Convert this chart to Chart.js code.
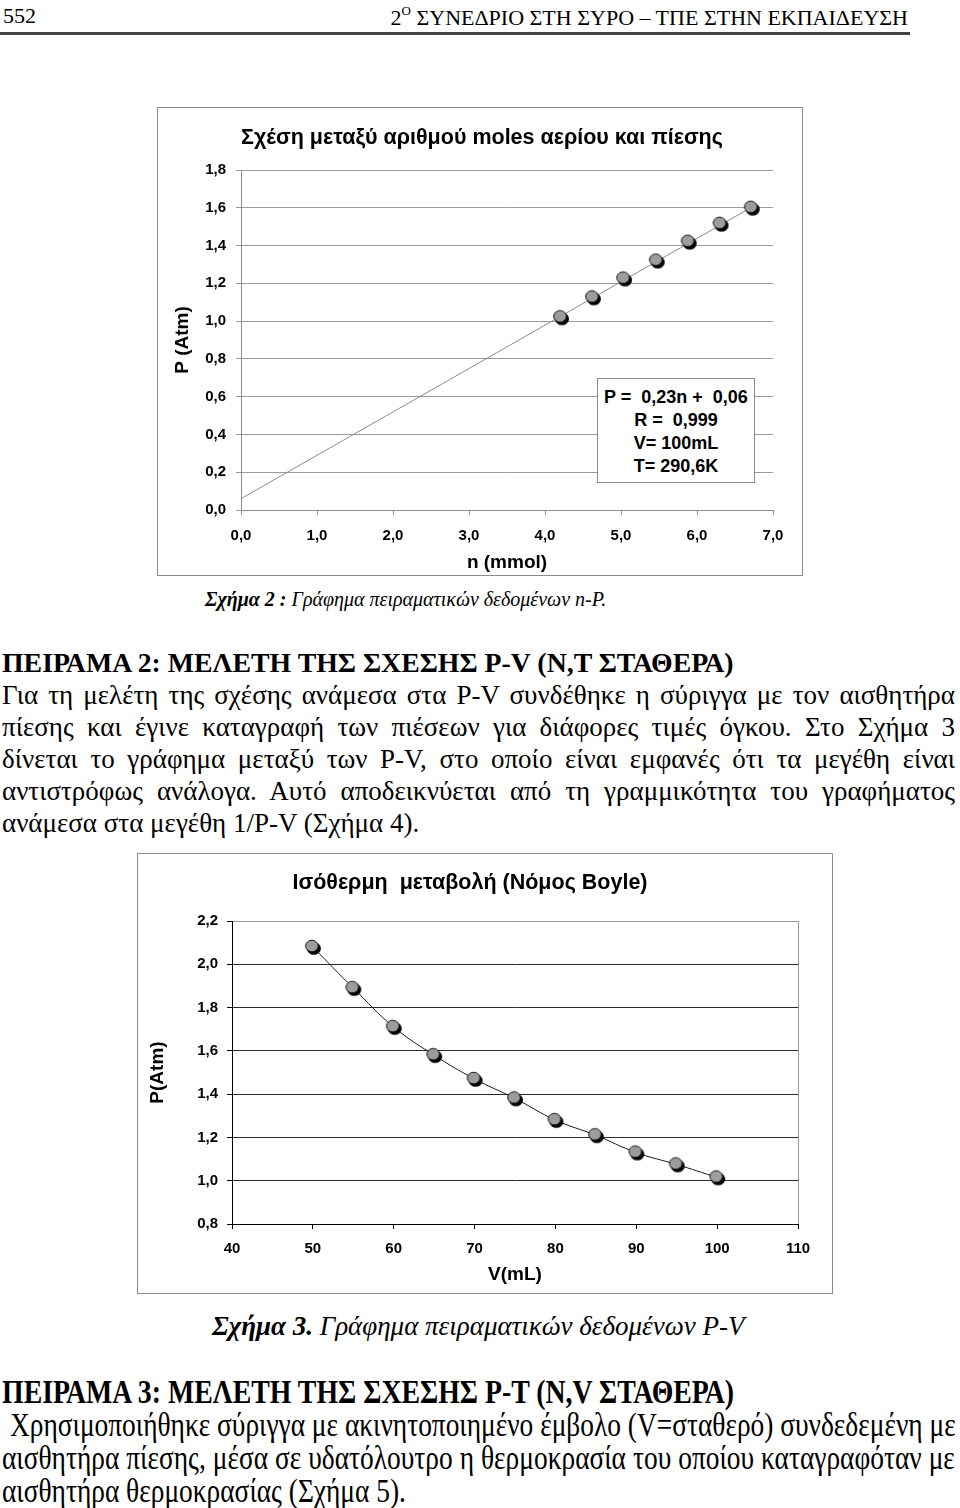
<!DOCTYPE html>
<html>
<head>
<meta charset="utf-8">
<script src="https://cdn.jsdelivr.net/npm/chart.js@4.4.1/dist/chart.umd.min.js"></script>
<style>
  body { margin: 0; width: 960px; height: 1508px; background: #fff; position: relative; overflow: hidden;
         font-family: "Liberation Serif", "Times New Roman", serif; color: #000; }
  .abs { position: absolute; white-space: nowrap; }
  .line { position: absolute; left: 2px; width: 953px; white-space: nowrap; font-size: 27px; line-height: 32px; }
  .just { text-align: justify; text-align-last: justify; }
  .cond { transform-origin: 0 50%; font-size: 33px; line-height: 33px; transform: scaleX(0.83); width: 1148px; }
  .frame { position: absolute; box-sizing: border-box; border: 1px solid #8a8a8a; background: #fff; }
  .frame canvas { position: absolute; left: 0; top: 0; }
  .ctitle { position: absolute; width: 600px; margin-left: -300px; text-align: center; white-space: pre;
            font: bold 21.5px "Liberation Sans", Arial, sans-serif; line-height: 26px; }
  .eq { position: absolute; box-sizing: border-box; border: 1px solid #8a8a8a; background: #fff;
        font: bold 18px "Liberation Sans", Arial, sans-serif; text-align: center; line-height: 23px; padding-top: 7px; }
</style>
</head>
<body>

<!-- page header -->
<div class="abs" style="left:3px; top:3px; font-size:22px;">552</div>
<div class="abs" style="right:52px; top:3px; font-size:22px;">2<sup style="font-size:13px; vertical-align:10px;">O</sup> ΣΥΝΕΔΡΙΟ ΣΤΗ ΣΥΡΟ – ΤΠΕ ΣΤΗΝ ΕΚΠΑΙΔΕΥΣΗ</div>
<div class="abs" style="left:0; top:32px; width:910px; height:3px; background:#444;"></div>

<!-- figure 2 -->
<div class="frame" style="left:157px; top:107px; width:646px; height:469px;">
  <canvas id="chartNP" width="644" height="467"></canvas>
</div>
<div class="ctitle" style="left:482px; top:124px;">Σχέση μεταξύ αριθμού moles αερίου και πίεσης</div>
<div class="eq" style="left:597px; top:378px; width:158px; height:105px;">
  P =&nbsp; 0,23n +&nbsp; 0,06<br>R =&nbsp; 0,999<br>V= 100mL<br>T= 290,6K
</div>
<div class="abs" style="left:205px; top:588px; font-size:20px; font-style:italic;"><b>Σχήμα 2 :</b> Γράφημα πειραματικών δεδομένων n-P.</div>

<!-- text, experiment 2 -->
<div class="line" style="top:647px; font-weight:bold; font-size:27.8px;">ΠΕΙΡΑΜΑ 2: ΜΕΛΕΤΗ ΤΗΣ ΣΧΕΣΗΣ P-V (N,T ΣΤΑΘΕΡΑ)</div>
<div class="line just" style="top:679px;">Για τη μελέτη της σχέσης ανάμεσα στα P-V συνδέθηκε η σύριγγα με τον αισθητήρα</div>
<div class="line just" style="top:711px;">πίεσης και έγινε καταγραφή των πιέσεων για διάφορες τιμές όγκου. Στο Σχήμα 3</div>
<div class="line just" style="top:743px;">δίνεται το γράφημα μεταξύ των P-V, στο οποίο είναι εμφανές ότι τα μεγέθη είναι</div>
<div class="line just" style="top:775px;">αντιστρόφως ανάλογα. Αυτό αποδεικνύεται από τη γραμμικότητα του γραφήματος</div>
<div class="line" style="top:807px;">ανάμεσα στα μεγέθη 1/P-V (Σχήμα 4).</div>

<!-- figure 3 -->
<div class="frame" style="left:137px; top:853px; width:696px; height:441px;">
  <canvas id="chartPV" width="694" height="439"></canvas>
</div>
<div class="ctitle" style="left:470px; top:869px;">Ισόθερμη  μεταβολή (Νόμος Boyle)</div>
<div class="abs" style="left:212px; top:1311px; font-size:27px; font-style:italic;"><b>Σχήμα 3.</b> Γράφημα πειραματικών δεδομένων P-V</div>

<!-- text, experiment 3 (narrow type) -->
<div class="line cond" style="top:1376px; font-weight:bold; transform:scaleX(0.843);">ΠΕΙΡΑΜΑ 3: ΜΕΛΕΤΗ ΤΗΣ ΣΧΕΣΗΣ P-T (N,V ΣΤΑΘΕΡΑ)</div>
<div class="line cond just" style="top:1409px; left:10px; width:1137px;">Χρησιμοποιήθηκε σύριγγα με ακινητοποιημένο έμβολο (V=σταθερό) συνδεδεμένη με</div>
<div class="line cond just" style="top:1442px;">αισθητήρα πίεσης, μέσα σε υδατόλουτρο η θερμοκρασία του οποίου καταγραφόταν με</div>
<div class="line cond" style="top:1475px;">αισθητήρα θερμοκρασίας (Σχήμα 5).</div>

<script>
// Figure 2: n (mmol) vs P (Atm)
const nValues = [4.21, 4.63, 5.04, 5.47, 5.89, 6.31, 6.72];
const pValuesN = [1.02, 1.125, 1.225, 1.32, 1.42, 1.515, 1.60];
// trend line end points as drawn
const fitN = [0, 6.75];
const fitP = [0.06, 1.61];

// Figure 3: V (mL) vs P (Atm)
const vValues = [50, 55, 60, 65, 70, 75, 80, 85, 90, 95, 100];
const pValuesV = [2.08, 1.89, 1.71, 1.58, 1.47, 1.38, 1.28, 1.21, 1.13, 1.075, 1.015];

const sans = '"Liberation Sans", Arial, sans-serif';
const comma = v => Number(v).toFixed(1).replace('.', ',');

// gray ball with black shadow, like the Excel marker
function makeBall() {
  const c = document.createElement('canvas');
  c.width = 20; c.height = 20;
  const g = c.getContext('2d');
  g.fillStyle = '#000';
  g.beginPath(); g.ellipse(11, 11.5, 7, 6.3, 0, 0, Math.PI * 2); g.fill();
  g.fillStyle = '#9c9c9c'; g.strokeStyle = '#1a1a1a'; g.lineWidth = 1;
  g.beginPath(); g.ellipse(9, 9, 6.3, 5.8, 0, 0, Math.PI * 2); g.fill(); g.stroke();
  return c;
}
const ball = makeBall();

const pts = (xs, ys) => xs.map((x, i) => ({ x: x, y: ys[i] }));
const tickFont = { family: sans, size: 15, weight: 'bold' };
const axisFont = { family: sans, size: 19, weight: 'bold', lineHeight: 1.2 };

new Chart(document.getElementById('chartNP'), {
  type: 'scatter',
  data: {
    datasets: [
      { data: pts(nValues, pValuesN), pointStyle: ball, pointRadius: 9, showLine: false },
      { data: pts(fitN, fitP), showLine: true, pointRadius: 0, borderColor: '#8c8c8c', borderWidth: 1 }
    ]
  },
  options: {
    responsive: false, animation: false,
    layout: { padding: { left: 5, right: 29, top: 62, bottom: 0 } },
    plugins: { legend: { display: false }, tooltip: { enabled: false } },
    scales: {
      x: {
        type: 'linear', min: 0, max: 7,
        afterFit: s => { s.height = 65; },
        ticks: { stepSize: 1, callback: comma, color: '#000', padding: 12, maxRotation: 0, font: tickFont },
        grid: { drawOnChartArea: false, tickLength: 5, color: '#8c8c8c' },
        border: { color: '#8c8c8c' },
        title: { display: true, text: 'n (mmol)', color: '#000', padding: { top: 0, bottom: 1 }, font: axisFont }
      },
      y: {
        min: 0, max: 1.8,
        afterFit: s => { s.width = 78; },
        ticks: { stepSize: 0.2, callback: comma, color: '#000', padding: 10, font: tickFont },
        grid: { color: '#9a9a9a', tickLength: 5 },
        border: { color: '#8c8c8c' },
        title: { display: true, text: 'P (Atm)', color: '#000', padding: { top: 8, bottom: 0 }, font: axisFont }
      }
    }
  }
});

new Chart(document.getElementById('chartPV'), {
  type: 'scatter',
  data: {
    datasets: [
      { data: pts(vValues, pValuesV), showLine: true, tension: 0.4, borderColor: '#1a1a1a', borderWidth: 1,
        pointStyle: ball, pointRadius: 9 }
    ]
  },
  options: {
    responsive: false, animation: false,
    layout: { padding: { left: 2, right: 34, top: 67, bottom: 0 } },
    plugins: { legend: { display: false }, tooltip: { enabled: false } },
    scales: {
      x: {
        type: 'linear', min: 40, max: 110,
        afterFit: s => { s.height = 69; },
        ticks: { stepSize: 10, color: '#000', padding: 11, maxRotation: 0, font: tickFont },
        grid: { tickLength: 5, tickColor: '#000',
                color: c => (c.tick && c.tick.value === 110) ? '#9a9a9a' : 'rgba(0,0,0,0)' },
        border: { color: '#000' },
        title: { display: true, text: 'V(mL)', color: '#000', padding: { top: 0, bottom: 7 }, font: axisFont }
      },
      y: {
        min: 0.8, max: 2.2,
        afterFit: s => { s.width = 92; },
        ticks: { stepSize: 0.2, callback: comma, color: '#000', padding: 9, font: tickFont },
        grid: { tickLength: 5, tickColor: '#000',
                color: c => (c.tick && Math.abs(c.tick.value - 2.2) < 1e-6) ? '#9a9a9a' : '#2a2a2a' },
        border: { color: '#000' },
        title: { display: true, text: 'P(Atm)', color: '#000', padding: { top: 6, bottom: 0 }, font: axisFont }
      }
    }
  }
});
</script>
</body>
</html>
